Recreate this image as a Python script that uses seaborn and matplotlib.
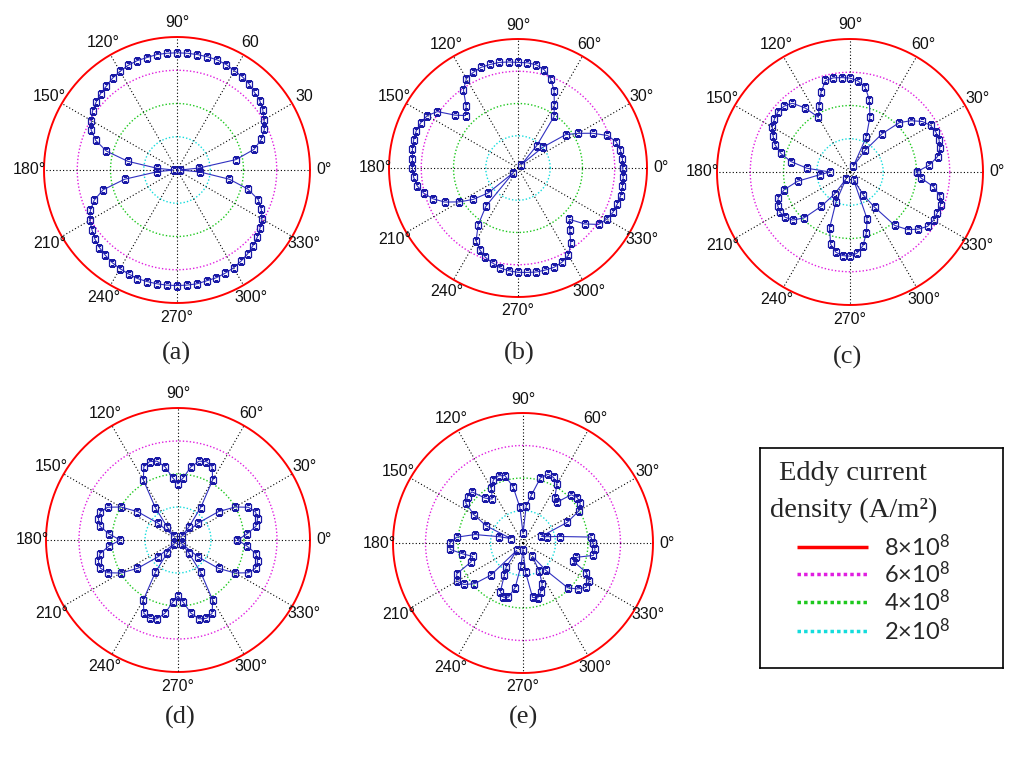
import numpy as np
import pandas as pd
import matplotlib
matplotlib.use("Agg")
import matplotlib.pyplot as plt
import seaborn as sns

# ------------------- Data -------------------
# measurement angles in degrees (one point every 5 deg)
angles_deg = list(range(0, 360, 5))

# eddy current density, in units of 1e8 A/m^2
density_a = [0.2, 1.3, 3.6, 4.8, 5.4, 5.8, 6.05, 6.3, 6.5, 6.6, 6.75, 6.85, 6.9, 7.0, 7.05, 7.05, 7.05, 7.05,
             7.05, 7.05, 7.05, 7.0, 7.0, 6.95, 6.85, 6.75, 6.6, 6.5, 6.35, 6.2, 5.95, 5.7, 5.2, 4.4, 3.0, 1.2,
             0.2, 1.2, 3.2, 4.6, 5.3, 5.75, 6.05, 6.25, 6.45, 6.6, 6.7, 6.8, 6.85, 6.9, 6.95, 6.95, 6.95, 6.95,
             6.95, 6.95, 6.95, 6.9, 6.9, 6.85, 6.8, 6.7, 6.6, 6.45, 6.3, 6.1, 5.9, 5.6, 5.2, 4.4, 3.2, 1.4]

density_b = [6.5, 6.5, 6.45, 6.3, 5.9, 5.1, 4.3, 3.6, 2.0, 0.3, 1.8, 3.9, 4.5, 5.3, 5.9, 6.3, 6.5, 6.55,
             6.55, 6.6, 6.65, 6.65, 6.65, 6.55, 6.4, 5.9, 5.0, 4.6, 5.1, 6.1, 6.5, 6.65, 6.72, 6.7, 6.65, 6.57,
             6.55, 6.5, 6.35, 6.05, 5.6, 5.0, 4.2, 3.4, 2.4, 0.4, 3.1, 4.3, 5.2, 5.6, 5.9, 6.1, 6.3, 6.4,
             6.47, 6.5, 6.55, 6.55, 6.55, 6.45, 6.25, 5.7, 5.0, 4.5, 5.4, 6.1, 6.35, 6.5, 6.55, 6.6, 6.58, 6.55]

density_c = [4.0, 4.8, 5.35, 5.6, 5.7, 5.7, 5.6, 5.3, 4.8, 4.2, 3.0, 1.6, 0.4, 2.3, 3.5, 4.5, 5.2, 5.5,
             5.65, 5.7, 5.75, 5.7, 5.1, 4.4, 3.8, 4.7, 5.4, 5.6, 5.65, 5.55, 5.4, 5.1, 4.8, 4.3, 3.6, 2.6,
             1.2, 1.8, 3.2, 4.1, 4.6, 4.8, 4.85, 4.75, 4.5, 3.9, 2.7, 1.6, 0.5, 2.0, 3.6, 4.5, 4.9, 5.05,
             5.06, 4.9, 4.5, 3.8, 3.0, 0.5, 1.6, 2.6, 4.2, 4.9, 5.35, 5.7, 5.8, 5.8, 5.8, 5.6, 5.1, 4.3]

density_d = [3.6, 4.2, 4.8, 5.0, 5.0, 4.7, 4.0, 3.0, 1.6, 0.3, 1.0, 2.4, 4.2, 4.9, 5.05, 4.95, 4.5, 3.8,
             3.4, 3.8, 4.5, 4.95, 5.05, 4.9, 4.2, 2.4, 1.0, 0.3, 1.6, 3.0, 4.0, 4.7, 5.0, 5.0, 4.8, 4.2,
             3.5, 4.2, 4.8, 5.0, 5.0, 4.7, 4.0, 3.0, 1.6, 0.3, 1.0, 2.4, 4.2, 4.9, 5.05, 4.95, 4.5, 3.8,
             3.4, 3.8, 4.5, 4.95, 5.05, 4.9, 4.2, 2.4, 1.0, 0.3, 1.6, 3.0, 4.0, 4.7, 5.0, 5.0, 4.8, 4.2]

density_e = [4.3, 4.2, 2.3, 1.5, 1.2, 3.0, 4.0, 4.3, 4.35, 4.2, 3.3, 3.4, 4.2, 4.45, 4.5, 4.15, 3.0, 2.3,
             0.6, 2.2, 3.5, 4.3, 4.4, 4.3, 3.9, 3.3, 3.6, 4.45, 4.45, 4.3, 3.5, 2.5, 0.8, 1.5, 3.0, 4.1,
             4.5, 4.5, 3.8, 3.2, 3.4, 4.5, 4.7, 4.45, 3.9, 2.8, 0.6, 1.8, 2.3, 3.3, 3.55, 3.45, 2.8, 1.4,
             0.4, 1.8, 3.4, 3.5, 3.2, 2.8, 2.0, 1.0, 2.2, 3.9, 4.4, 4.75, 4.7, 4.3, 3.3, 3.4, 4.4, 4.45]

panel_names = ['(a)', '(b)', '(c)', '(d)', '(e)']

# reference circles (x1e8 A/m^2)
ref_levels = [8, 6, 4, 2]
ref_colors = ['#ff0000', '#e01ee0', '#1ec81e', '#14dcdc']
ref_labels = ['8×10$^{8}$', '6×10$^{8}$', '4×10$^{8}$', '2×10$^{8}$']

spoke_deg = [0, 30, 60, 90, 120, 150, 180, 210, 240, 270, 300, 330]
labels_a = ['0°', '30', '60', '90°', '120°', '150°', '180°', '210°', '240°', '270°', '300°', '330°']
labels_std = ['0°', '30°', '60°', '90°', '120°', '150°', '180°', '210°', '240°', '270°', '300°', '330°']

# ------------------- Style -------------------
sns.set_theme(style="white")
plt.rcParams['font.family'] = ['Liberation Sans', 'DejaVu Sans']
plt.rcParams['mathtext.fontset'] = 'custom'
plt.rcParams['mathtext.rm'] = 'Lato'
plt.rcParams['mathtext.it'] = 'Lato'

W, H = 1024, 760
fig = plt.figure(figsize=(W / 100, H / 100), dpi=100)


def polar_rect(cx, cy, R):
    # pixel centre / radius -> figure fraction rectangle
    return [(cx - R) / W, (H - cy - R) / H, 2 * R / W, 2 * R / H]


# (cx, cy, R) in pixels, and label position under each plot
panel_geom = [(177, 170, 133), (518, 168, 129), (850, 172, 133), (178, 540, 132), (523, 543, 130)]
label_pos = [(176, 353), (519, 353), (848, 357), (180, 717), (523, 717)]
all_density = [density_a, density_b, density_c, density_d, density_e]
all_ticklabels = [labels_a, labels_std, labels_std, labels_std, labels_std]

t_circle = np.linspace(0, 2 * np.pi, 721)

for (cx, cy, R), name, lpos, values, tlabels in zip(panel_geom, panel_names, label_pos,
                                                    all_density, all_ticklabels):
    ax = fig.add_axes(polar_rect(cx, cy, R), projection='polar')
    ax.set_theta_zero_location('E')
    ax.patch.set_visible(False)

    # reference circles
    for lev, col in zip(ref_levels, ref_colors):
        if lev == 8:
            ax.plot(t_circle, np.full_like(t_circle, lev), color=col, lw=1.4, clip_on=False, zorder=1)
        else:
            ax.plot(t_circle, np.full_like(t_circle, lev), color=col, ls=(0, (1, 1.5)), lw=1.0,
                    clip_on=False, zorder=1)

    # spokes + angle labels
    for d, lab in zip(spoke_deg, tlabels):
        th = np.deg2rad(d)
        ax.plot([th, th], [0, 8], color='black', ls=(0, (1, 2)), lw=0.8, zorder=1)
        ax.text(th, 8.85, lab, ha='center', va='center', fontsize=11.5, color='#111111')

    df = pd.DataFrame({'theta': np.deg2rad(angles_deg + [360]), 'r': values + values[:1]})
    sns.lineplot(data=df, x='theta', y='r', ax=ax, sort=False, estimator=None,
                 color='#3030c0', lw=0.8, marker='s', markersize=5,
                 markerfacecolor='none', markeredgecolor='#1a1aa6', markeredgewidth=0.9, zorder=3)

    ax.set_ylim(0, 8)
    ax.grid(False)
    ax.set_xticks([])
    ax.set_yticks([])
    ax.set_xlabel('')
    ax.set_ylabel('')
    ax.spines['polar'].set_visible(False)

    fig.text(lpos[0] / W, 1 - lpos[1] / H, name, ha='center', va='center',
             family='Liberation Serif', fontsize=19)

# ------------------- Legend box -------------------
lax = fig.add_axes([760 / W, (H - 668) / H, 243 / W, 220 / H])
lax.set_xlim(0, 1)
lax.set_ylim(0, 1)
lax.set_xticks([])
lax.set_yticks([])
for sp in lax.spines.values():
    sp.set_visible(True)
    sp.set_color('black')
    sp.set_linewidth(1.2)

lax.text(0.08, 0.885, 'Eddy current', ha='left', va='center', family='Liberation Serif', fontsize=20.5)
lax.text(0.04, 0.715, 'density (A/m²)', ha='left', va='center', family='Liberation Serif', fontsize=20.5)

entry_y = [0.55, 0.427, 0.30, 0.168]
for lev, col, lab, y in zip(ref_levels, ref_colors, ref_labels, entry_y):
    if lev == 8:
        lax.plot([0.152, 0.444], [y, y], color=col, lw=2.5, solid_capstyle='butt')
    else:
        lax.plot([0.152, 0.444], [y, y], color=col, lw=2.5, ls=(0, (1, 0.9)))
    lax.text(0.51, y, lab, ha='left', va='center', family='Lato', fontsize=17)

fig.savefig('out.png', dpi=100)
